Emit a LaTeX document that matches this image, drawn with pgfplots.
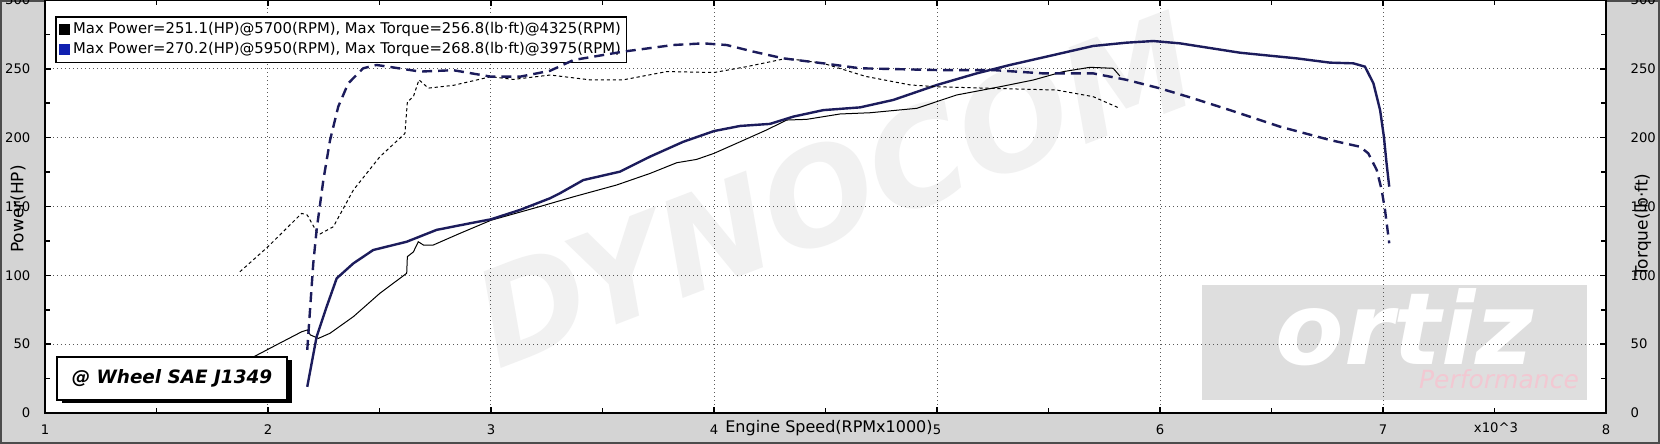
\documentclass[border=0pt]{standalone}
\usepackage{pgfplots}
\pgfplotsset{compat=1.18}
\usepackage{fontspec}
\setmainfont{DejaVu Sans}
\definecolor{bgcol}{RGB}{212,212,212}
\definecolor{navy}{RGB}{28,28,92}
\definecolor{legblue}{RGB}{16,32,176}
\definecolor{wmgray}{RGB}{241,241,241}
\definecolor{logogray}{RGB}{222,222,222}
\definecolor{logopink}{RGB}{242,200,210}
\begin{document}
\begin{tikzpicture}
% page = 1660x444 px at 0.5pt per px, axis box 1561x413 px
\fill[bgcol] (-22.5pt,-15.5pt) rectangle (807.5pt,206.5pt);
\draw[gray!60!black, line width=0.6pt] (-22pt,-15pt) rectangle (807pt,206pt);
\fill[white] (0,0) rectangle (780.5pt,206.5pt);
% watermarks
\node[wmgray, rotate=21, font=\fontsize{66}{66}\selectfont\bfseries\itshape] at (395pt,112pt) {DYNOCOM};
\fill[logogray] (578.5pt,6.5pt) rectangle (771pt,64pt);
\node[white, font=\fontsize{50}{50}\selectfont\bfseries\itshape] at (680pt,43pt) {ortiz};
\node[logopink, font=\fontsize{12.5}{13}\selectfont\itshape] at (727pt,17pt) {Performance};

\begin{axis}[
  at={(0,0)}, anchor=south west,
  scale only axis, width=780.5pt, height=206.5pt,
  xmin=1, xmax=8, ymin=0, ymax=300,
  xtick={1,...,8}, minor x tick num=1,
  ytick={0,50,...,300}, minor y tick num=1,
  yticklabel pos=left,
  grid=major,
  major grid style={gray!70!black, line width=0.5pt, dash pattern=on 0.6pt off 1.4pt},
  axis line style={line width=1pt},
  tick style={black, line width=0.8pt},
  major tick length=3pt, minor tick length=2.5pt,
  tick label style={font=\fontsize{6.6}{7}\selectfont},
  /pgf/number format/assume math mode=true,
  xticklabel style={yshift=-2.5pt},
  yticklabel style={xshift=-3.8pt},
  legend style={at={(0.0064,0.9613)}, anchor=north west, draw=black, line width=0.8pt,
    fill=white, font=\fontsize{7.4}{8.6}\selectfont, row sep=0pt,
    nodes={inner sep=1.4pt}, inner sep=1.5pt},
  legend cell align=left,
]
\addlegendimage{legend image code/.code={\fill[black] (0pt,-2.3pt) rectangle (5pt,2.3pt);}}
\addlegendentry{Max Power=251.1(HP)@5700(RPM), Max Torque=256.8(lb·ft)@4325(RPM)}
\addlegendimage{legend image code/.code={\fill[legblue] (0pt,-2.3pt) rectangle (5pt,2.3pt);}}
\addlegendentry{Max Power=270.2(HP)@5950(RPM), Max Torque=268.8(lb·ft)@3975(RPM)}
% run 1 power
\addplot[black, line width=0.5pt, forget plot] coordinates {
(1.88,36) (1.95,42) (2.05,50.5) (2.151,59) (2.176,60.3) (2.19,56.7) (2.226,54.2)
(2.278,57.9) (2.383,70) (2.502,87) (2.622,101.5) (2.625,113.6) (2.652,117)
(2.674,124.4) (2.697,122) (2.741,122) (2.861,130.5) (3.0,140) (3.22,150)
(3.369,157) (3.563,165.6) (3.713,174) (3.833,181.8) (3.922,184.2) (4.0,188.6)
(4.117,197) (4.236,205.6) (4.326,212.8) (4.416,213.3) (4.565,217.2) (4.7,218.1)
(4.909,221.3) (5.088,231) (5.283,237) (5.432,241.9) (5.567,248) (5.686,251.1)
(5.79,250.4) (5.82,244.8)
};
% run 2 power
\addplot[navy, line width=1.2pt, forget plot] coordinates {
(2.176,19) (2.218,55.4) (2.263,77.2) (2.308,97.8) (2.383,108.7) (2.472,118.4)
(2.622,124.4) (2.756,133) (2.906,137.8) (3.0,140.7) (3.13,147.5) (3.265,156)
(3.309,159.6) (3.414,169.2) (3.578,175.3) (3.713,186.2) (3.862,197) (4.0,204.8)
(4.117,208.5) (4.251,210) (4.356,215.3) (4.49,220) (4.655,222) (4.804,227.4)
(5.0,238.3) (5.178,246.7) (5.327,252.8) (5.522,260) (5.7,266.6) (5.85,269)
(5.97,270.2) (6.09,268.5) (6.359,261.7) (6.613,257.6) (6.762,254.5) (6.867,254)
(6.919,251.6) (6.957,239.5) (6.987,220) (7.004,200.7) (7.016,181.4) (7.028,164.4)
};
\end{axis}

\begin{axis}[
  at={(0,0)}, anchor=south west,
  scale only axis, width=780.5pt, height=206.5pt,
  xmin=1, xmax=8, ymin=0, ymax=300,
  axis x line=none, axis y line*=right,
  y axis line style={draw=none},
  ytick={0,50,...,300}, ytick style={draw=none},
  tick label style={font=\fontsize{6.6}{7}\selectfont},
  /pgf/number format/assume math mode=true,
  yticklabel style={xshift=8.8pt},
]
% run 1 torque
\addplot[black, line width=0.5pt, dash pattern=on 1.6pt off 1.4pt] coordinates {
(1.874,102.6) (2.0,120.8) (2.151,145) (2.176,143.8) (2.218,131.7) (2.233,130)
(2.293,135.3) (2.383,162) (2.502,186.2) (2.614,203) (2.625,226) (2.652,229.8)
(2.677,242) (2.719,236) (2.831,238) (3.0,244.3) (3.1,242.3) (3.265,245.5)
(3.444,242) (3.593,242) (3.788,248) (4.0,247.3) (4.147,251.6) (4.326,257.6)
(4.49,254) (4.68,244.5) (4.88,238.3) (5.0,237) (5.25,235.8) (5.536,234.6)
(5.7,229.8) (5.82,221.3)
};
% run 2 torque
\addplot[navy, line width=1.2pt, dash pattern=on 5pt off 3pt] coordinates {
(2.176,45.8) (2.203,108.7) (2.218,133) (2.248,169) (2.278,198) (2.315,222.5)
(2.36,239.5) (2.427,250.4) (2.487,252.8) (2.562,251) (2.682,248) (2.831,249)
(3.0,244.3) (3.13,244.3) (3.265,248.6) (3.37,256.4) (3.593,262.5) (3.817,267.3)
(3.952,268.5) (4.057,267.3) (4.176,262.5) (4.311,257.6) (4.49,254) (4.655,250.4)
(5.0,249.1) (5.25,249.1) (5.475,246.7) (5.7,246.7) (5.85,242) (6.0,235.8)
(6.134,229.3) (6.314,220) (6.538,208) (6.762,198.3) (6.897,193.4) (6.934,188.6)
(6.972,176.5) (6.994,162) (7.009,147.5) (7.028,123.3)
};
\end{axis}

% SAE box with shadow
\fill[black] (8.5pt,5pt) rectangle (123.5pt,26.5pt);
\filldraw[fill=white, draw=black, line width=0.6pt] (6pt,6.5pt) rectangle (121pt,28pt);
\node[font=\fontsize{9.2}{10}\selectfont\bfseries\itshape] at (63.5pt,17.2pt) {@ Wheel SAE J1349};

% axis titles
\node[font=\fontsize{8.5}{9}\selectfont, rotate=90] at (-13.5pt,102pt) {Power(HP)};
\node[font=\fontsize{8.5}{9}\selectfont, rotate=90] at (799pt,94pt) {Torque(lb·ft)};
\node[font=\fontsize{8}{9}\selectfont] at (392pt,-7.5pt) {Engine Speed(RPMx1000)};
\node[font=\fontsize{6.6}{7}\selectfont] at (725.5pt,-7.5pt) {x10\^{}3};

\pgfresetboundingbox
\path[use as bounding box] (-22.5pt,-15.5pt) rectangle (807.5pt,206.5pt);
\end{tikzpicture}
\end{document}
